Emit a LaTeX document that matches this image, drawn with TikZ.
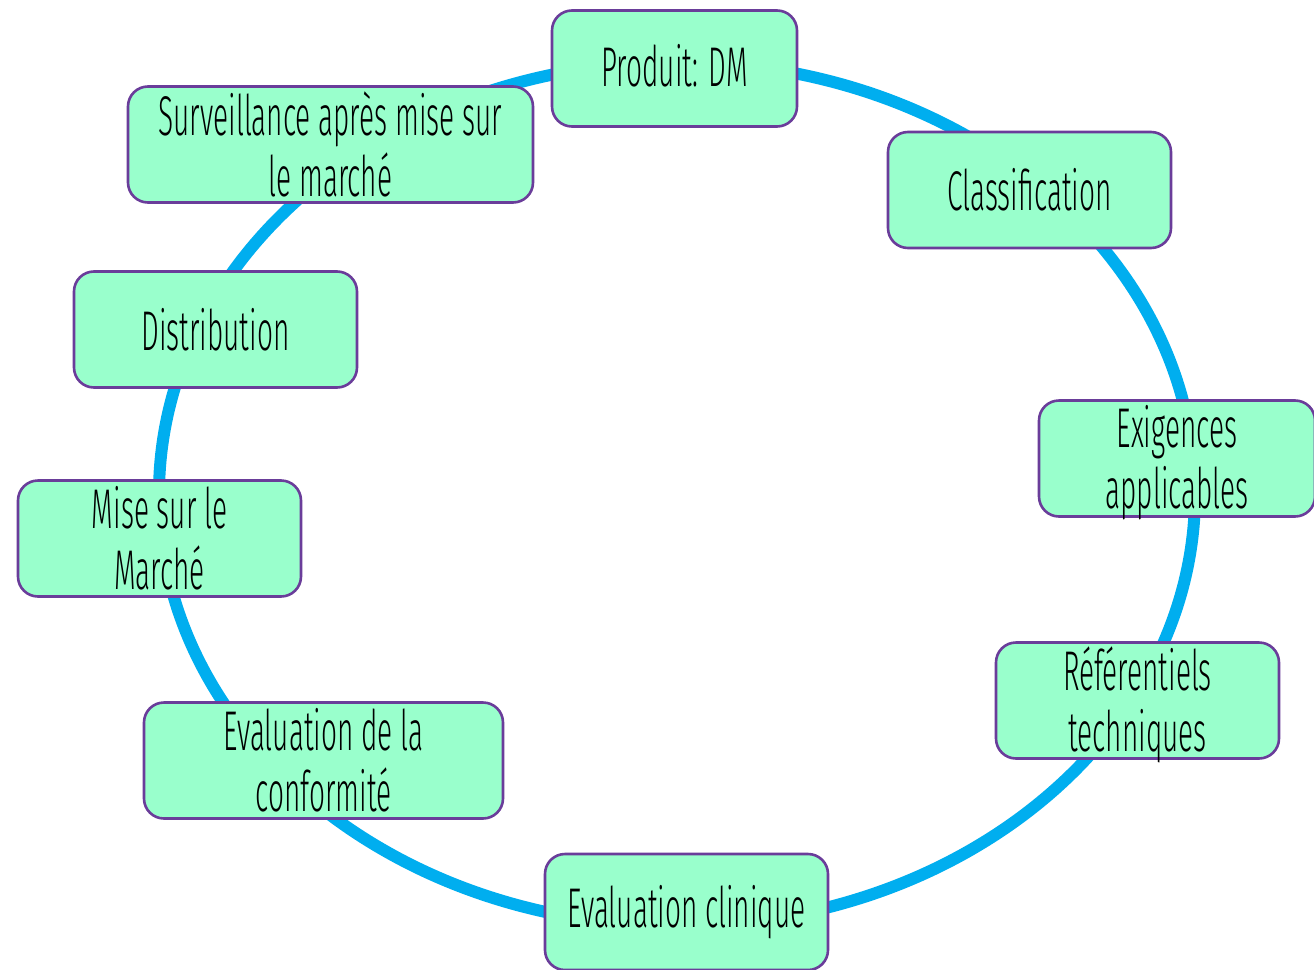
\documentclass[tikz,border=0pt]{standalone}
\usepackage{fontspec}
\setmainfont{Fira Sans}[UprightFont={* Light}, FakeStretch=0.5]
\definecolor{ringblue}{HTML}{00AEEF}
\definecolor{boxfill}{HTML}{99FFCC}
\definecolor{boxline}{HTML}{6A3D9A}
\begin{document}
\begin{tikzpicture}[x=1pt,y=-1pt,
  stepbox/.style={draw=boxline, line width=2.6pt, fill=boxfill, rounded corners=20pt,
    inner sep=0pt, minimum height=116pt},
  steptext/.style={align=center, font=\fontsize{56}{61}\selectfont, text=black, inner sep=0pt}]
\useasboundingbox (0,0) rectangle (1314,969);
\fill[white] (0,0) rectangle (1314,969);
% the cycle
\draw[ringblue, line width=12pt] (677,494) ellipse [x radius=518, y radius=432];
% the stages
\node[stepbox, minimum width=245pt] (p1) at (674.5,68.5) {};
\node[stepbox, minimum width=283pt] (p2) at (1029.5,190) {};
\node[stepbox, minimum width=276pt] (p3) at (1177,458.5) {};
\node[stepbox, minimum width=283pt] (p4) at (1137.5,700.5) {};
\node[stepbox, minimum width=283pt] (p5) at (686.5,912) {};
\node[stepbox, minimum width=359pt] (p6) at (323.5,760.5) {};
\node[stepbox, minimum width=283pt] (p7) at (159.5,538.5) {};
\node[stepbox, minimum width=283pt] (p8) at (215.5,329.5) {};
\node[stepbox, minimum width=405pt] (p9) at (330.5,144.5) {};
\node[steptext] (t1) at ([yshift=3pt]p1.center) {Produit: DM};
\node[steptext] (t2) at (p2.center) {Classification};
\node[steptext] (t3) at ([yshift=-4pt]p3.center) {Exigences\\applicables};
\node[steptext] (t4) at ([yshift=-4pt]p4.center) {Référentiels\\techniques};
\node[steptext] (t5) at (p5.center) {Evaluation clinique};
\node[steptext] (t6) at (p6.center) {Evaluation de la\\conformité};
\node[steptext] (t7) at (p7.center) {Mise sur le\\Marché};
\node[steptext] (t8) at (p8.center) {Distribution};
\node[steptext] (t9) at (p9.center) {Surveillance après mise sur\\le marché};
\end{tikzpicture}
\end{document}
